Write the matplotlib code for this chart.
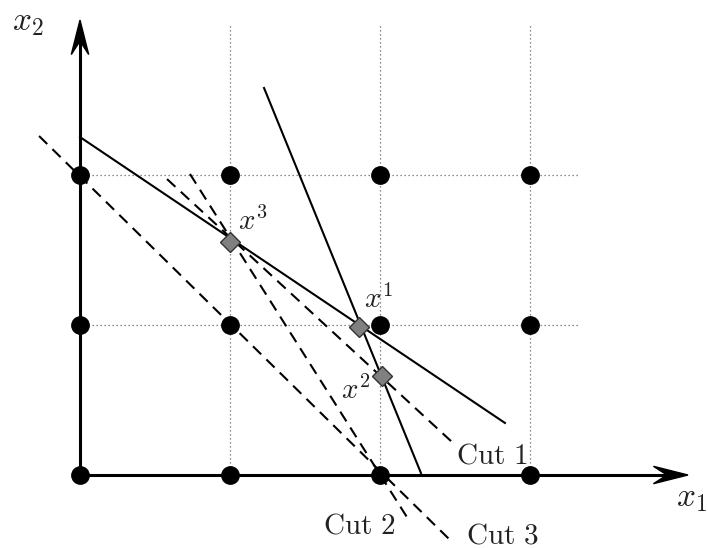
import numpy as np
import matplotlib
matplotlib.use('Agg')
import matplotlib.pyplot as plt
from matplotlib.patches import Polygon

plt.rcParams['mathtext.fontset'] = 'cm'

# --- DATA ---
grid_x = [0, 1, 2, 3]
grid_y = [0, 1, 2]

# constraint lines (solid)
con1_x = [0.0, 2.833]
con1_y = [2.253, 0.347]
con2_x = [1.227, 2.273]
con2_y = [2.58, 0.013]

# cutting planes (dashed)
cut1_x = [0.58, 2.48]
cut1_y = [1.973, 0.22]
cut2_x = [0.733, 2.2]
cut2_y = [2.007, -0.313]
cut3_x = [-0.273, 2.487]
cut3_y = [2.26, -0.453]

# LP iterates
iter_names = ['x^1', 'x^2', 'x^3']
iter_x = [1.86, 2.013, 1.0]
iter_y = [0.987, 0.66, 1.553]
iter_lab_x = [1.99, 1.84, 1.155]
iter_lab_y = [1.17, 0.565, 1.69]

cut_names = ['Cut 1', 'Cut 2', 'Cut 3']
cut_lab_x = [2.747, 1.86, 2.813]
cut_lab_y = [0.133, -0.34, -0.40]

grid_top = 3.0
grid_right = 3.33
x_tip = 4.053
y_tip = 3.033

txt = '#222222'

fig = plt.figure(figsize=(7.08, 5.48), dpi=100)
ax = fig.add_axes([0, 0, 1, 1])
ax.set_xlim(-80 / 150, 628 / 150)
ax.set_ylim(-73 / 150, 475 / 150)
ax.axis('off')

# dotted grid
dot_style = dict(color='#666666', lw=0.9, ls=(0, (1, 2.2)), zorder=1)
for gx in grid_x[1:]:
    ax.plot([gx, gx], [0, grid_top], **dot_style)
for gy in grid_y[1:]:
    ax.plot([0, grid_right], [gy, gy], **dot_style)

# axes with stealth arrow heads
ax.plot([0, x_tip - 0.12], [0, 0], color='black', lw=2.2, zorder=3)
ax.plot([0, 0], [0, y_tip - 0.12], color='black', lw=2.2, zorder=3)
hl, hw, nd = 0.23, 0.058, 0.14
ax.add_patch(Polygon([[x_tip, 0], [x_tip - hl, hw], [x_tip - nd, 0], [x_tip - hl, -hw]],
                     closed=True, color='black', zorder=4))
ax.add_patch(Polygon([[0, y_tip], [hw, y_tip - hl], [0, y_tip - nd], [-hw, y_tip - hl]],
                     closed=True, color='black', zorder=4))

# constraints
ax.plot(con1_x, con1_y, color='black', lw=1.5, zorder=3)
ax.plot(con2_x, con2_y, color='black', lw=1.5, zorder=3)

# cuts
for cx, cy in [(cut1_x, cut1_y), (cut2_x, cut2_y), (cut3_x, cut3_y)]:
    ax.plot(cx, cy, color='black', lw=1.5, dashes=(5.5, 3.5), zorder=3)

# integer points
gxx, gyy = np.meshgrid(grid_x, grid_y)
ax.plot(gxx.ravel(), gyy.ravel(), 'o', color='black', ms=12.5, zorder=5)

# iterates
ax.plot(iter_x, iter_y, 'D', ms=10, mfc='#808080', mec='#333333', mew=1.0, zorder=6)

for name, lx, ly in zip(iter_names, iter_lab_x, iter_lab_y):
    ax.text(lx, ly, '$' + name + '$', fontsize=21, color=txt, ha='center', va='center')
for name, lx, ly in zip(cut_names, cut_lab_x, cut_lab_y):
    ax.text(lx, ly, r'$\mathrm{' + name.replace(' ', r'\ ') + '}$', fontsize=21,
            color=txt, ha='center', va='center')

ax.text(-0.347, 3.02, '$x_2$', fontsize=24, color=txt, ha='center', va='center')
ax.text(4.075, -0.147, '$x_1$', fontsize=24, color=txt, ha='center', va='center')

fig.savefig('out.png', dpi=100)
